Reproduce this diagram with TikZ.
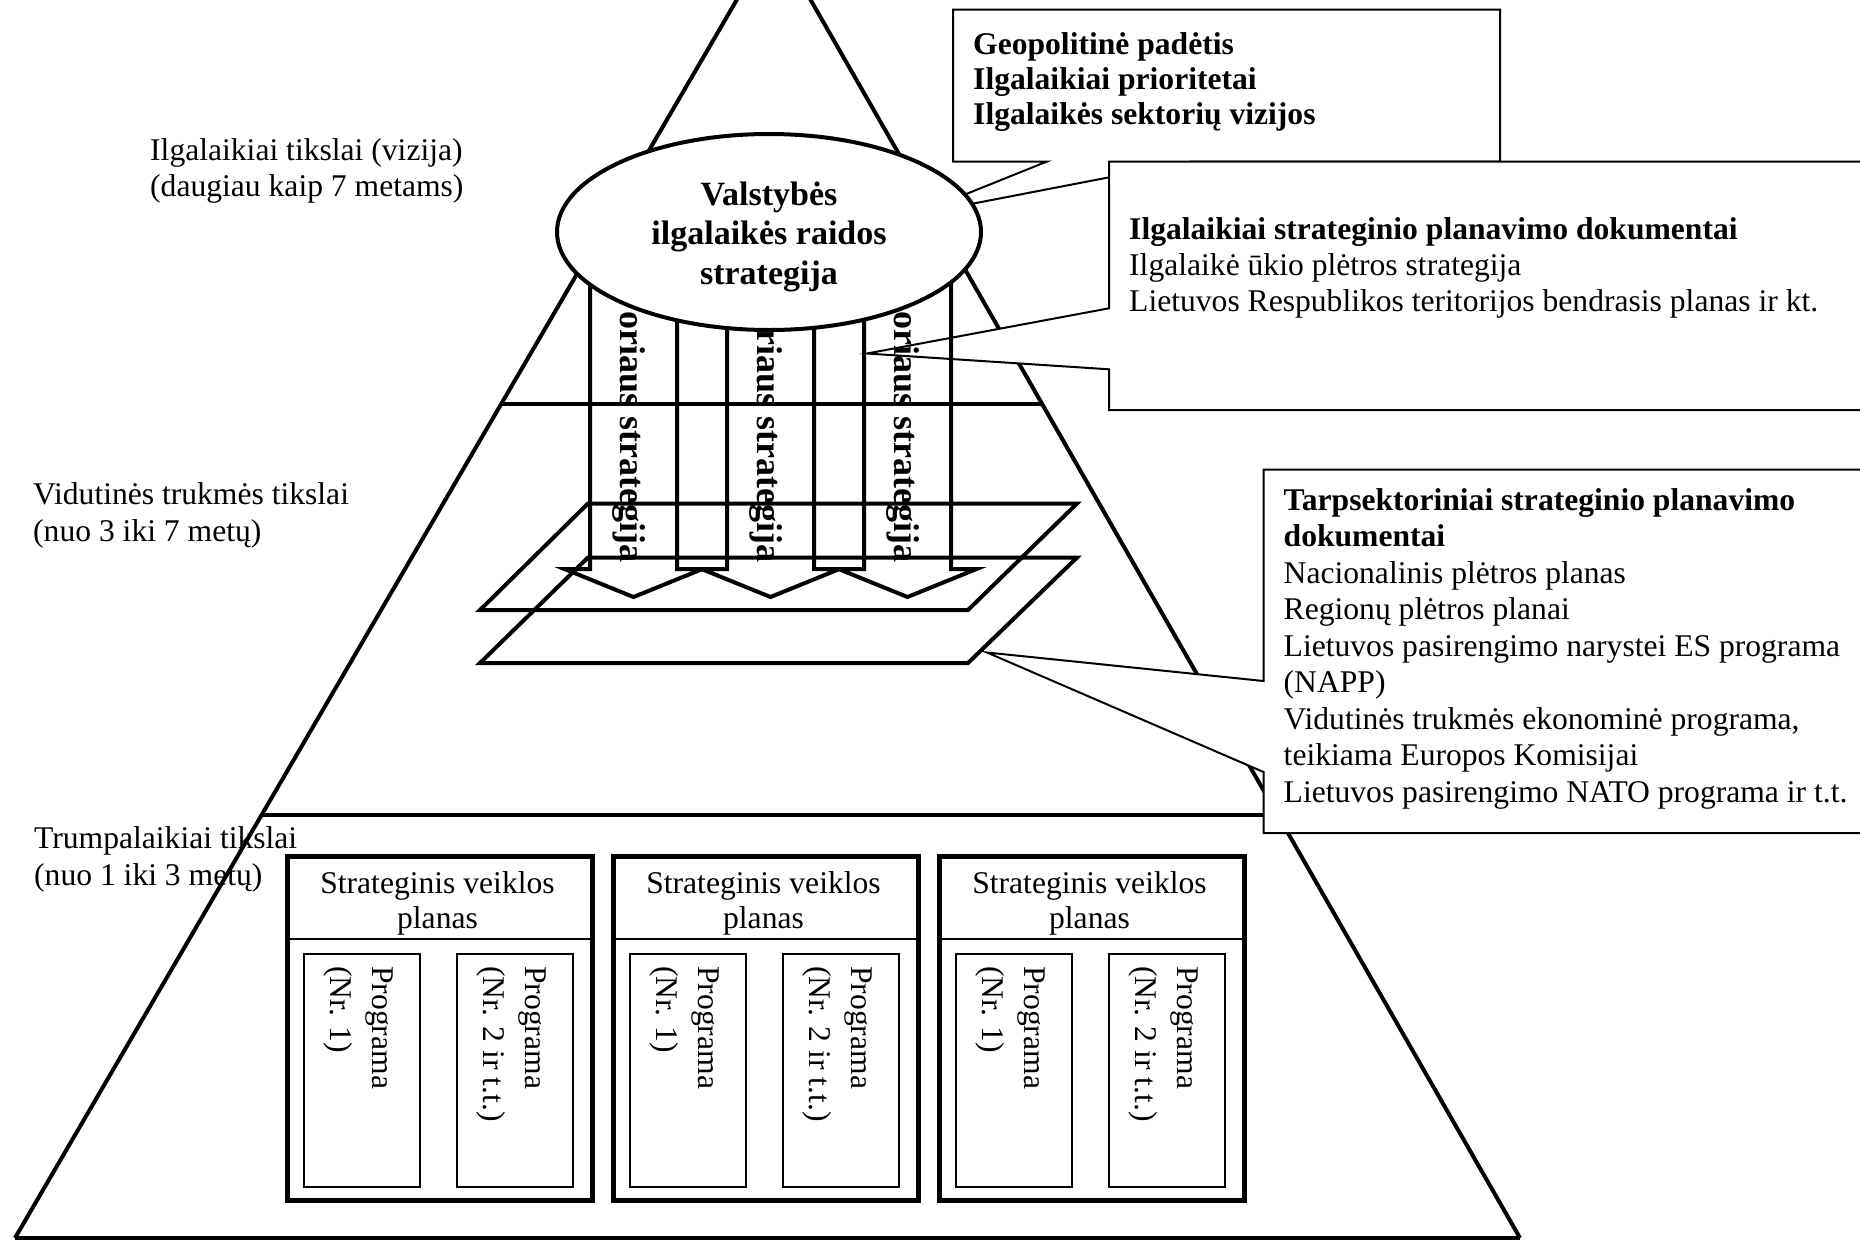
\documentclass[tikz,border=0pt]{standalone}
\usepackage{fontspec}
\setmainfont{Liberation Serif}
\usetikzlibrary{shapes.geometric,calc}
\begin{document}
\begin{tikzpicture}[x=1pt,y=-1pt,
  reg/.style={font=\fontsize{31.6}{36.4}\selectfont, inner sep=0pt, anchor=base west},
  bld/.style={font=\bfseries\fontsize{31.6}{36.4}\selectfont, inner sep=0pt, anchor=base west},
  ellt/.style={font=\bfseries\fontsize{34}{39}\selectfont, inner sep=0pt, anchor=base},
  striptxt/.style={font=\bfseries\fontsize{36}{40}\selectfont, inner sep=0pt, rotate=-90, anchor=base east},
  progtxt/.style={font=\fontsize{31.6}{36.4}\selectfont, inner sep=0pt, rotate=-90, anchor=mid west},
  heavy/.style={line width=4pt},
  callout/.style={draw, fill=white, line width=2pt, line join=miter},
  outerbox/.style={draw, line width=4.5pt, inner sep=0pt, minimum width=305pt, minimum height=344pt, anchor=north west},
  innerbox/.style={draw, line width=2pt, inner sep=0pt, minimum width=116pt, minimum height=233pt, anchor=north west}
]
\useasboundingbox (0,0) rectangle (1860,1240);
\fill[white] (0,0) rectangle (1860,1240);

% level labels
\node[reg] (lt1a) at (150,160) {Ilgalaikiai tikslai (vizija)};
\node[reg] (lt1b) at (150,196.5) {(daugiau kaip 7 metams)};
\node[reg] (lt2a) at (33,504) {Vidutinės trukmės tikslai};
\node[reg] (lt2b) at (33,541) {(nuo 3 iki 7 metų)};
\node[reg] (lt3a) at (34,848) {Trumpalaikiai tikslai};
\node[reg] (lt3b) at (34,885) {(nuo 1 iki 3 metų)};

% pyramid
\coordinate (apex) at (774,-64);
\coordinate (bl) at (15,1238);
\coordinate (br) at (1520,1238);
\coordinate (d1l) at ($(apex)!0.3594!(bl)$);
\coordinate (d1r) at ($(apex)!0.3594!(br)$);
\coordinate (d2l) at ($(apex)!0.6751!(bl)$);
\coordinate (d2r) at ($(apex)!0.6751!(br)$);
\draw[heavy] (bl) -- (apex) -- (br);
\draw[heavy] (bl) -- (br);
\draw[heavy] (d1l) -- (d1r);
\draw[line width=4.5pt] (d2l) -- (d2r);

% strategic activity plans
\foreach \i in {1,2,3}{
  \pgfmathsetmacro{\L}{285+326*(\i-1)}
  \node[outerbox] (svp\i) at (\L,854) {};
  \draw[line width=2pt] (svp\i.west |- 0,939) -- (svp\i.east |- 0,939);
  \node[reg, anchor=base] (svpt\i) at (\L+152.5,893.3) {Strateginis veiklos};
  \node[reg, anchor=base] (svpp\i) at (\L+152.5,928.5) {planas};
  \node[innerbox] (pa\i) at (\L+18,953) {};
  \node[innerbox] (pb\i) at (\L+171,953) {};
  \node[progtxt] (pa\i t1) at (\L+90,966) {Programa};
  \node[progtxt] (pa\i t2) at (\L+48,966) {(Nr. 1)};
  \node[progtxt] (pb\i t1) at (\L+243,966) {Programa};
  \node[progtxt] (pb\i t2) at (\L+201,966) {(Nr. 2 ir t.t.)};
}

% parallelograms
\draw[heavy, line join=miter] (588,503.5) -- (1077,503.5) -- (968,610) -- (480,610) -- cycle;
\draw[heavy, line join=miter] (588,557.5) -- (1077,557.5) -- (968,663) -- (480,663) -- cycle;

% callouts
\draw[callout] (953,9.5) -- (1500,9.5) -- (1500,161.5) -- (1191,161.5) -- (914,215) -- (1047,161.5) -- (953,161.5) -- cycle;
\node[bld] (c1a) at (973,54.5) {Geopolitinė padėtis};
\node[bld] (c1b) at (973,89.5) {Ilgalaikiai prioritetai};
\node[bld] (c1c) at (973,124.5) {Ilgalaikės sektorių vizijos};

\draw[callout] (1109,161.5) -- (1875,161.5) -- (1875,410) -- (1109,410) -- (1109,369.3) -- (867,353.5) -- (1109,308.3) -- cycle;
\node[bld] (c2a) at (1129,239) {Ilgalaikiai strateginio planavimo dokumentai};
\node[reg] (c2b) at (1129,275.3) {Ilgalaikė ūkio plėtros strategija};
\node[reg] (c2c) at (1129,311.6) {Lietuvos Respublikos teritorijos bendrasis planas ir kt.};

\draw[callout] (1263.5,469.5) -- (1875,469.5) -- (1875,833) -- (1263.5,833) -- (1263.5,772) -- (987,652.5) -- (1263.5,681) -- cycle;
\node[bld] (c3a) at (1283.5,510) {Tarpsektoriniai strateginio planavimo};
\node[bld] (c3b) at (1283.5,546.5) {dokumentai};
\node[reg] (c3c) at (1283.5,583) {Nacionalinis plėtros planas};
\node[reg] (c3d) at (1283.5,619.5) {Regionų plėtros planai};
\node[reg] (c3e) at (1283.5,656) {Lietuvos pasirengimo narystei ES programa};
\node[reg] (c3f) at (1283.5,692.5) {(NAPP)};
\node[reg] (c3g) at (1283.5,729) {Vidutinės trukmės ekonominė programa,};
\node[reg] (c3h) at (1283.5,765.5) {teikiama Europos Komisijai};
\node[reg] (c3i) at (1283.5,802) {Lietuvos pasirengimo NATO programa ir t.t.};

% sector strategy arrows
\foreach \i/\xl in {1/590,2/727,3/864}{
  \draw[heavy, line join=miter] (\xl,250) -- (\xl,569) -- (\xl-25.5,569) -- (\xl+43.5,597)
     -- (\xl+112.5,569) -- (\xl+87,569) -- (\xl+87,250);
  \node[striptxt] (strip\i) at (\xl+30,563) {oriaus strategija};
}

% ellipse
\node[draw, ellipse, line width=4pt, fill=white, minimum width=424pt, minimum height=196pt, inner sep=0pt] (vals) at (769,232) {};
\node[ellt] (v1) at (769,205) {Valstybės};
\node[ellt] (v2) at (769,244.5) {ilgalaikės raidos};
\node[ellt] (v3) at (769,284) {strategija};
\end{tikzpicture}
\end{document}
